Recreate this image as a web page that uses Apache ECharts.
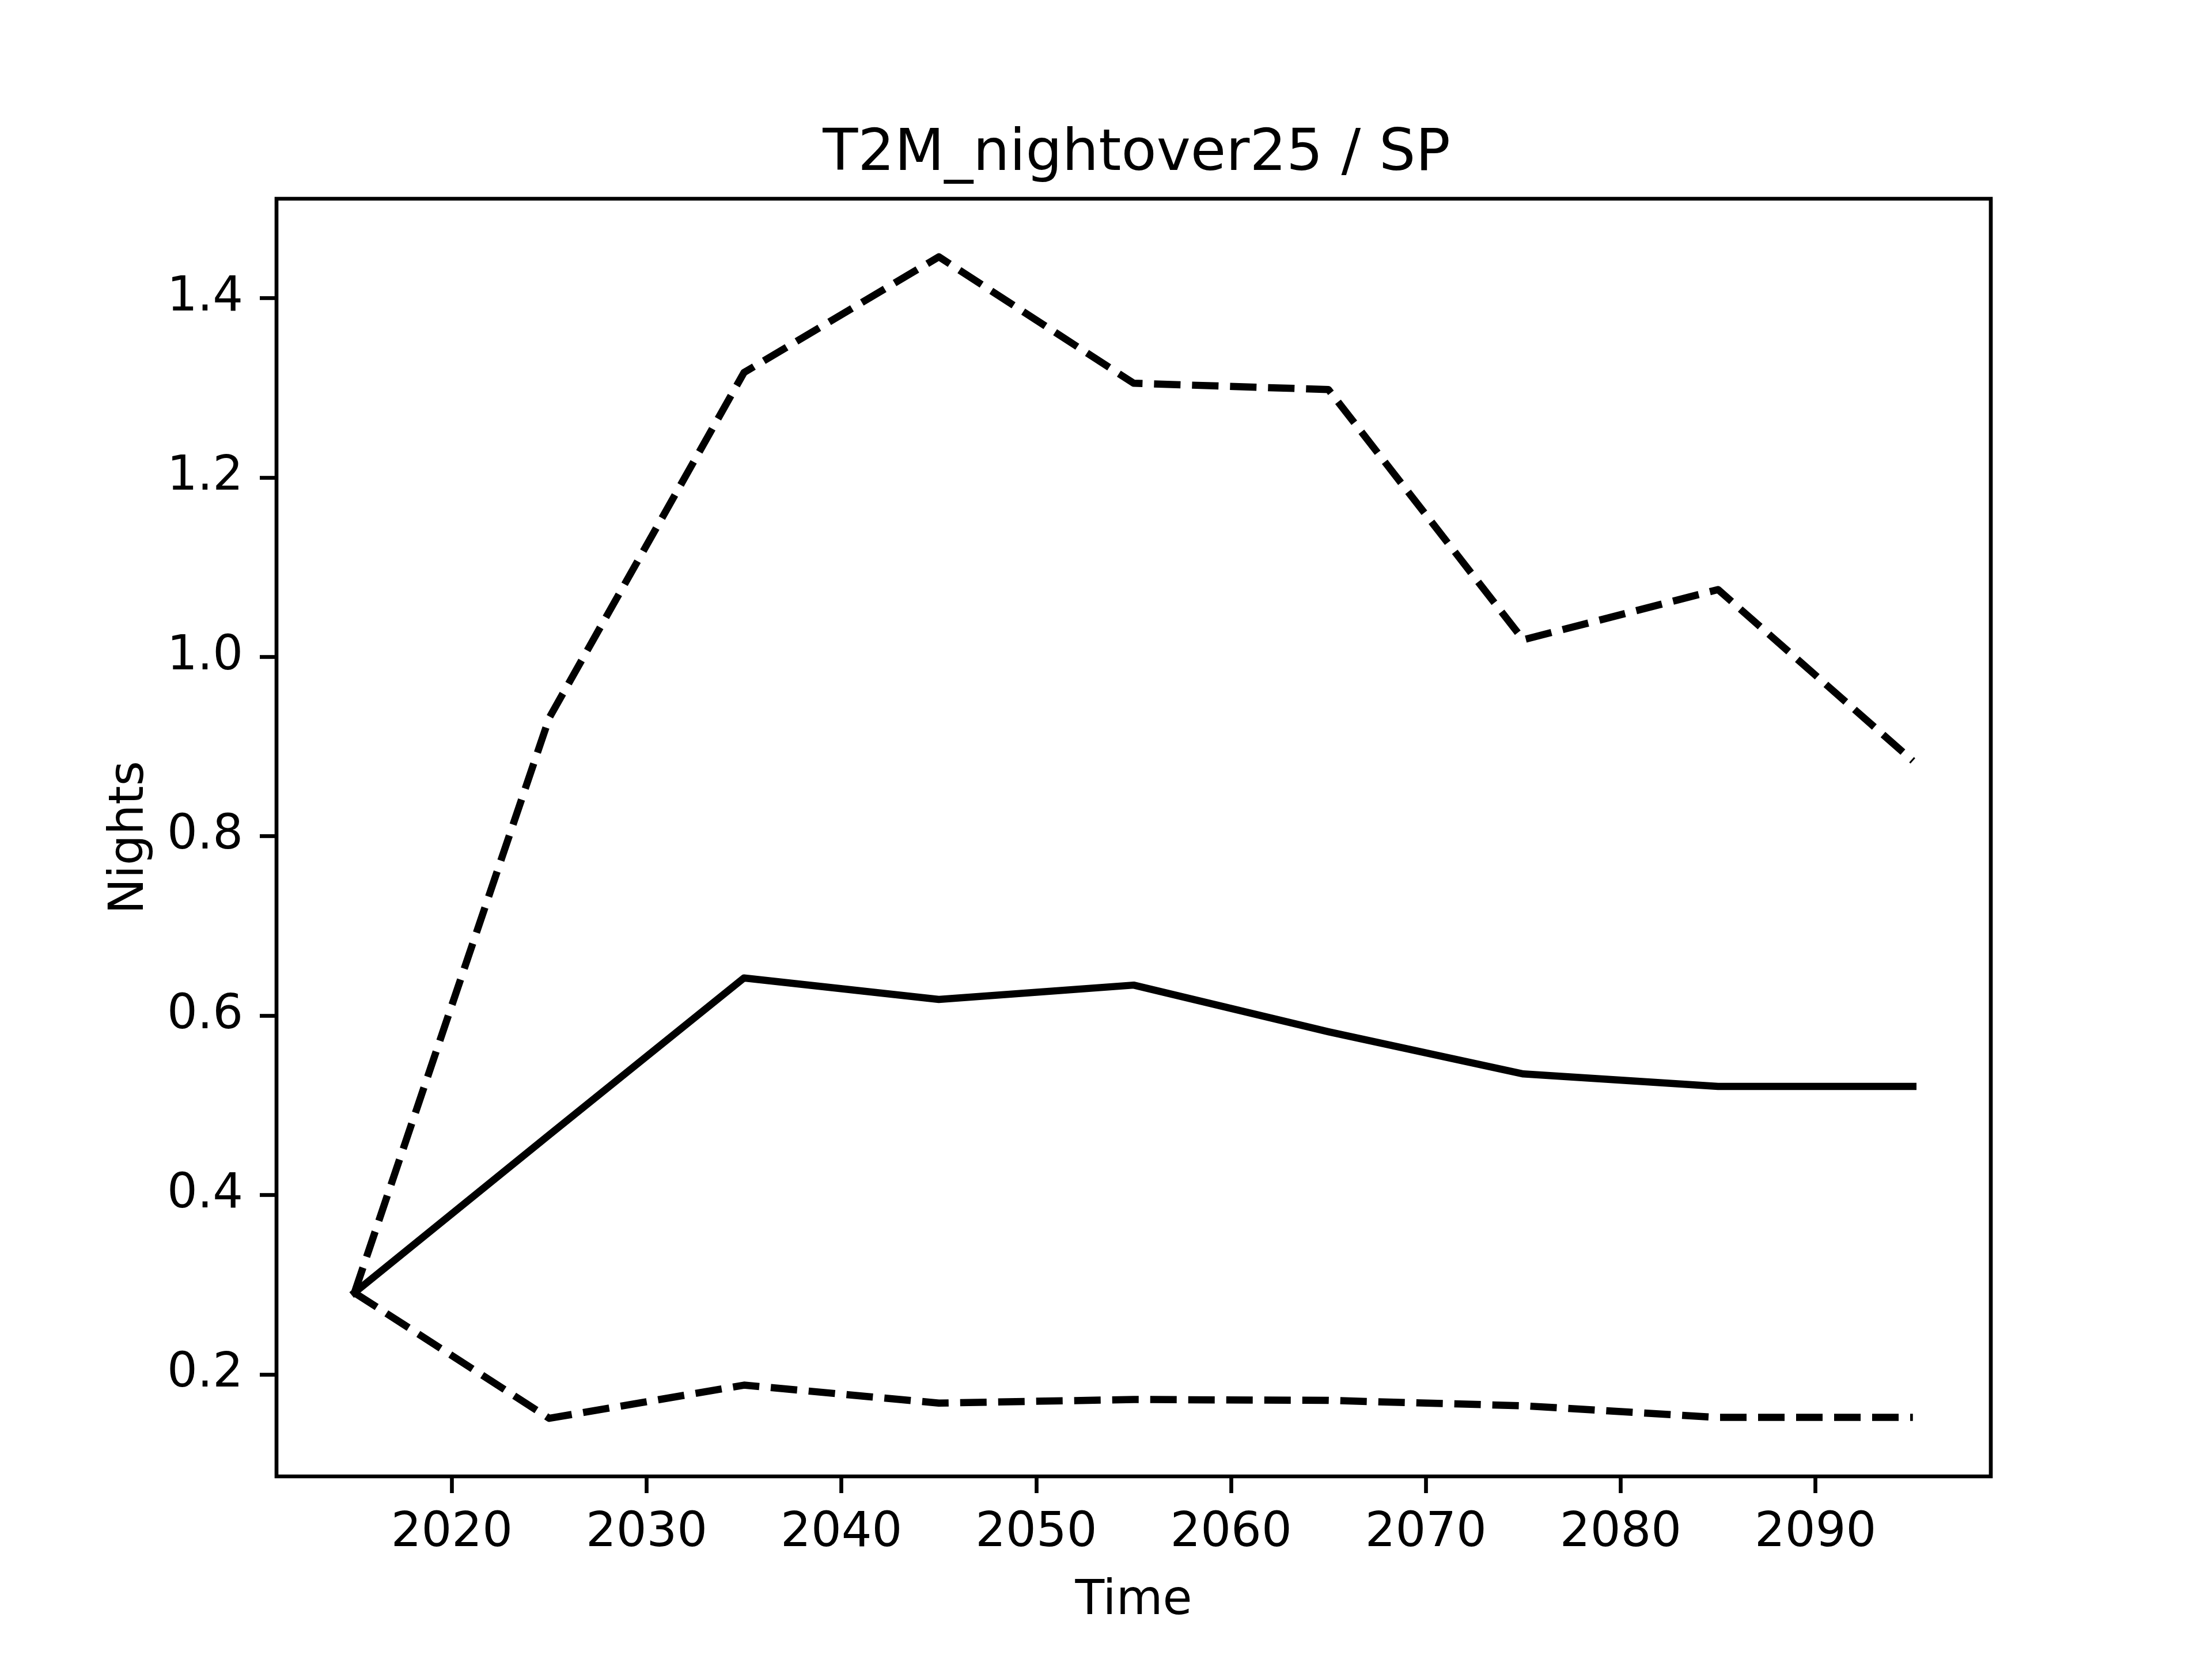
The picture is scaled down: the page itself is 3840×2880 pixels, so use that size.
<!DOCTYPE html>
<html>
<head>
<meta charset="utf-8">
<script src="https://cdn.jsdelivr.net/npm/echarts@6/dist/echarts.min.js"></script>
<style>
html,body{margin:0;padding:0;background:#fff;}
#chart{width:3840px;height:2880px;}
</style>
</head>
<body>
<div id="chart"></div>
<script>
var years = [2015, 2025, 2035, 2045, 2055, 2065, 2075, 2085, 2095];
var meanVals = [0.291, 0.467, 0.642, 0.618, 0.634, 0.582, 0.535, 0.521, 0.521];
var upperVals = [0.291, 0.932, 1.317, 1.446, 1.305, 1.298, 1.019, 1.075, 0.884];
var lowerVals = [0.291, 0.151, 0.188, 0.168, 0.172, 0.171, 0.165, 0.152, 0.152];
var xTicks = [2020, 2030, 2040, 2050, 2060, 2070, 2080, 2090];
var yTicks = [0.2, 0.4, 0.6, 0.8, 1.0, 1.2, 1.4];
var titleText = 'T2M_nightover25 / SP';
var xName = 'Time';
var yName = 'Nights';

function pairs(xs, ys) { return xs.map(function (x, i) { return [x, ys[i]]; }); }

var allY = meanVals.concat(upperVals, lowerVals);
var yMinD = Math.min.apply(null, allY), yMaxD = Math.max.apply(null, allY);
var yPad = (yMaxD - yMinD) * 0.05;
var xMinD = years[0], xMaxD = years[years.length - 1];
var xPad = (xMaxD - xMinD) * 0.05;

var FONT = 'DejaVu Sans';
var chart = echarts.init(document.getElementById('chart'), null, {renderer: 'canvas'});
var lineW = 12.5;
chart.setOption({
  animation: false,
  backgroundColor: '#ffffff',
  title: {
    text: titleText,
    left: 1968, top: 214, textAlign: 'center',
    textStyle: {fontFamily: FONT, fontSize: 100, fontWeight: 'normal', color: '#000'}
  },
  grid: {
    left: 480, right: 384, top: 345, bottom: 317,
    show: true, borderColor: '#000', borderWidth: 6.67, backgroundColor: 'transparent'
  },
  xAxis: {
    type: 'value', min: xMinD - xPad, max: xMaxD + xPad,
    name: xName, nameLocation: 'middle', nameGap: 176,
    nameTextStyle: {fontFamily: FONT, fontSize: 83, color: '#000'},
    axisLine: {show: false},
    splitLine: {show: false},
    axisTick: {show: true, inside: false, length: 29, lineStyle: {color: '#000', width: 6.67}, customValues: xTicks},
    axisLabel: {show: true, margin: 58, fontFamily: FONT, fontSize: 83, color: '#000', customValues: xTicks,
      formatter: function (v) { return String(v); }}
  },
  yAxis: {
    type: 'value', min: yMinD - yPad, max: yMaxD + yPad,
    name: yName, nameLocation: 'middle', nameGap: 212, nameRotate: 90,
    nameTextStyle: {fontFamily: FONT, fontSize: 83, color: '#000'},
    axisLine: {show: false},
    splitLine: {show: false},
    axisTick: {show: true, inside: false, length: 29, lineStyle: {color: '#000', width: 6.67}, customValues: yTicks},
    axisLabel: {show: true, margin: 58, fontFamily: FONT, fontSize: 83, color: '#000', customValues: yTicks,
      formatter: function (v) { return Number(v).toFixed(1); }}
  },
  series: [
    {type: 'line', data: pairs(years, upperVals), showSymbol: false, symbol: 'none',
      lineStyle: {color: '#000', width: lineW, type: [46, 20], join: 'round', cap: 'butt'}, z: 3},
    {type: 'line', data: pairs(years, lowerVals), showSymbol: false, symbol: 'none',
      lineStyle: {color: '#000', width: lineW, type: [46, 20], join: 'round', cap: 'butt'}, z: 3},
    {type: 'line', data: pairs(years, meanVals), showSymbol: false, symbol: 'none',
      lineStyle: {color: '#000', width: lineW, type: 'solid', join: 'round', cap: 'square'}, z: 4}
  ]
});
</script>
</body>
</html>
